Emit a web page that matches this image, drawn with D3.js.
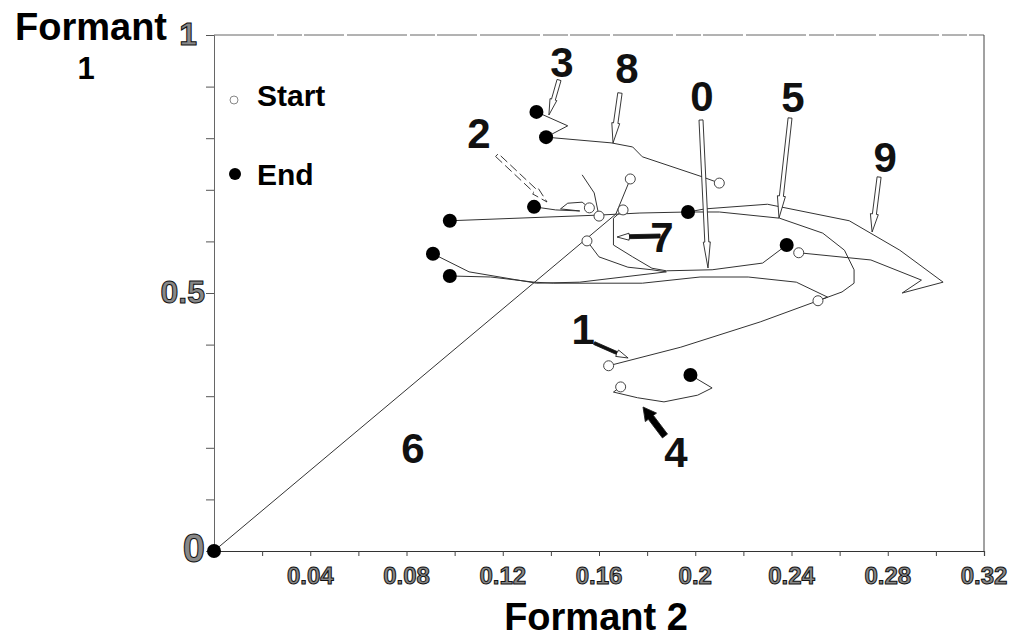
<!DOCTYPE html>
<html>
<head>
<meta charset="utf-8">
<script src="https://cdn.jsdelivr.net/npm/d3@7"></script>
<style>
  html, body { margin: 0; padding: 0; background: #fff; }
  svg { display: block; }
</style>
</head>
<body>
<svg id="chart" width="1016" height="640"></svg>
<script>
// Formant trajectories of the spoken digits: [Formant 2, Formant 1] pairs,
// first point = start of the utterance, last point = end. null = gap in the track.
const digit0 = [[0.170,0.661],[0.166,0.645],[0.166,0.593],[0.174,0.570],[0.182,0.548],[0.188,0.543],[0.207,0.545],[0.228,0.558],[0.238,0.593]];
const digit1 = [[0.164,0.359],[0.194,0.395],[0.227,0.444],[0.251,0.485],[0.255,0.492],[0.242,0.521],[0.222,0.531],[0.202,0.531],[0.178,0.519],[0.141,0.519],[0.133,0.521],[0.115,0.531],[0.098,0.533]];
const digit2 = [[0.156,0.665],[0.153,0.676],[0.147,0.674],[0.144,0.663],[0.152,0.659],[0.142,0.661],[0.133,0.667]];
const digit3 = [[0.160,0.649],[0.158,0.694],[0.153,0.729],null,[0.138,0.802],[0.147,0.824],[0.134,0.851]];
const digit4 = [[0.169,0.318],[0.166,0.308],[0.176,0.297],[0.187,0.289],[0.201,0.302],[0.207,0.316],[0.198,0.341]];
const digit5 = [[0.251,0.485],[0.261,0.502],[0.266,0.519],[0.266,0.545],[0.262,0.583],[0.253,0.616],[0.235,0.645],[0.210,0.657],[0.197,0.657],[0.177,0.655],[0.160,0.651],[0.098,0.640]];
const digit6 = [[0.173,0.721],[0.167,0.653],[0,0]];
const digit7 = [[0.155,0.601],[0.160,0.570],[0.172,0.550],[0.182,0.545],[0.188,0.541],[0.152,0.521],[0.134,0.519],[0.106,0.541],[0.091,0.576]];
const digit8 = [[0.210,0.713],[0.203,0.725],[0.178,0.764],[0.174,0.783],[0.165,0.791],[0.138,0.802]];
const digit9 = [[0.243,0.578],[0.273,0.564],[0.294,0.525],[0.286,0.500],[0.303,0.521],[0.285,0.583],[0.264,0.640],[0.230,0.672],[0.204,0.663],[0.197,0.657]];

const digitNames = ["0","1","2","3","4","5","6","7","8","9"];

// Digit annotations: label centre and arrow [tail, tip], in data units
const labelPos = [[0.2028,0.8818],[0.1534,0.4300],[0.1101,0.8101],[0.1446,0.9477],[0.1920,0.1919],[0.2406,0.8798],[0.0827,0.1996],[0.1862,0.6085],[0.1716,0.9360],[0.2789,0.7636]];
const arrowTail = [[0.2024,0.8353],[0.1580,0.4030],[0.1176,0.7674],[0.1434,0.9128],[0.1874,0.2229],[0.2394,0.8391],null,[0.1854,0.6105],[0.1687,0.8876],[0.2764,0.7248]];
const arrowTip  = [[0.2053,0.5484],[0.1721,0.3740],[0.1384,0.6764],[0.1392,0.8450],[0.1783,0.2791],[0.2348,0.6453],null,[0.1675,0.6085],[0.1658,0.7907],[0.2735,0.6182]];

// Axis ticks and labels
const xMinorTicks = [0.02,0.04,0.06,0.08,0.10,0.12,0.14,0.16,0.18,0.20,0.22,0.24,0.26,0.28,0.30,0.32];
const xTickValues = [0.04,0.08,0.12,0.16,0.20,0.24,0.28,0.32];
const xTickLabels = ["0.04","0.08","0.12","0.16","0.2","0.24","0.28","0.32"];
const yMinorTicks = [0.1,0.2,0.3,0.4,0.5,0.6,0.7,0.8,0.9,1.0];
const yTickValues = [0, 0.5, 1];
const yTickLabels = ["0","0.5","1"];

const trajectories = [digit0,digit1,digit2,digit3,digit4,digit5,digit6,digit7,digit8,digit9];

const svg = d3.select("#chart");
const FONT = "'Liberation Sans', Arial, Helvetica, sans-serif";

const x = d3.scaleLinear().domain([0, 0.32]).range([214, 984]);
const y = d3.scaleLinear().domain([0, 1]).range([551, 35]);

// frame
const frame = svg.append("g");
frame.append("line").attr("x1", x(0)).attr("x2", x(0.32)).attr("y1", y(1)).attr("y2", y(1))
  .attr("stroke", "#666").attr("stroke-width", 1).attr("stroke-dasharray", "60,3,25,2,40,3");
frame.append("line").attr("x1", x(0.32)).attr("x2", x(0.32)).attr("y1", y(1)).attr("y2", y(0))
  .attr("stroke", "#444").attr("stroke-width", 1);

// x axis
const xAxis = svg.append("g").attr("transform", `translate(0,${y(0)})`)
  .call(d3.axisBottom(x).tickValues(xMinorTicks).tickSize(5).tickFormat(""));
xAxis.select(".domain").attr("stroke", "#333").attr("stroke-width", 1.2);
xAxis.selectAll(".tick line").attr("stroke", "#444");

// y axis
const yAxis = svg.append("g").attr("transform", `translate(${x(0)},0)`)
  .call(d3.axisLeft(y).tickValues(yMinorTicks).tickSize(8).tickFormat(""));
yAxis.select(".domain").attr("stroke", "#666").attr("stroke-width", 1);
yAxis.selectAll(".tick line").attr("stroke", "#555");

// tick labels (outlined numerals)
svg.append("g").selectAll("text").data(xTickValues).join("text")
  .attr("x", d => x(d)).attr("y", y(0) + 33)
  .attr("text-anchor", "middle")
  .attr("font-family", FONT).attr("font-weight", "bold").attr("font-size", 24)
  .attr("fill", "#888").attr("stroke", "#111").attr("stroke-width", 1)
  .text((d, i) => xTickLabels[i]);

svg.append("g").selectAll("text").data(yTickValues).join("text")
  .attr("x", x(0) - 9).attr("y", d => y(d))
  .attr("dx", d => d === 1 ? -8 : 0)
  .attr("dy", d => d === 0 ? "0.28em" : "0.3em")
  .attr("text-anchor", "end")
  .attr("font-family", FONT).attr("font-weight", "bold")
  .attr("font-size", d => d === 0 ? 40 : 32)
  .attr("fill", "#888").attr("stroke", "#111").attr("stroke-width", 1)
  .text((d, i) => yTickLabels[i]);

// axis titles
const yTitle = svg.append("text").attr("font-family", FONT).attr("font-weight", "bold")
  .attr("fill", "#000").attr("text-anchor", "middle");
yTitle.append("tspan").attr("x", 91).attr("y", 40).attr("font-size", 38).text("Formant");
yTitle.append("tspan").attr("x", 86).attr("y", 79).attr("font-size", 31).text("1");

svg.append("text").attr("x", 596).attr("y", 630)
  .attr("text-anchor", "middle").attr("font-family", FONT).attr("font-weight", "bold")
  .attr("font-size", 38).attr("fill", "#000").text("Formant 2");

// trajectories
const line = d3.line().defined(d => d !== null).x(d => x(d[0])).y(d => y(d[1]));
svg.append("g").selectAll("path").data(trajectories).join("path")
  .attr("d", line).attr("fill", "none")
  .attr("stroke", "#333").attr("stroke-width", 1).attr("stroke-linejoin", "round");

// start markers (open) then end markers (filled)
svg.append("g").selectAll("circle").data(trajectories).join("circle")
  .attr("cx", d => x(d[0][0])).attr("cy", d => y(d[0][1])).attr("r", 5)
  .attr("fill", "#fff").attr("stroke", "#444").attr("stroke-width", 1);
svg.append("g").selectAll("circle").data(trajectories).join("circle")
  .attr("cx", d => x(d[d.length - 1][0])).attr("cy", d => y(d[d.length - 1][1])).attr("r", 7)
  .attr("fill", "#000");

// annotation arrows
function arrowGeom(t, h, sw, hw, hl) {
  const x1 = x(t[0]), y1 = y(t[1]), x2 = x(h[0]), y2 = y(h[1]);
  const L = Math.hypot(x2 - x1, y2 - y1), ux = (x2 - x1) / L, uy = (y2 - y1) / L;
  const nx = -uy, ny = ux, bx = x2 - ux * hl, by = y2 - uy * hl;
  const p = [
    [x1 + nx * sw, y1 + ny * sw], [bx + nx * sw, by + ny * sw], [bx + nx * hw, by + ny * hw],
    [x2, y2],
    [bx - nx * hw, by - ny * hw], [bx - nx * sw, by - ny * sw], [x1 - nx * sw, y1 - ny * sw]
  ];
  return {
    outline: "M" + p.map(q => q[0].toFixed(1) + "," + q[1].toFixed(1)).join("L") + "Z",
    shaft: [x1, y1, bx, by]
  };
}
// kind: "hollow" outlined arrow, "solid" filled arrow, "mixed" black shaft with outlined head
const arrowStyle = {
  "0": {sw: 2, hw: 3.5, hl: 26, kind: "hollow", dash: null},
  "1": {sw: 1.5, hw: 3.5, hl: 12, kind: "mixed", dash: null},
  "2": {sw: 2, hw: 4, hl: 16, kind: "hollow", dash: "9,4"},
  "3": {sw: 2, hw: 3.5, hl: 16, kind: "hollow", dash: null},
  "4": {sw: 3.2, hw: 7, hl: 13, kind: "solid", dash: null},
  "5": {sw: 2, hw: 4, hl: 22, kind: "hollow", dash: null},
  "7": {sw: 2, hw: 3.5, hl: 12, kind: "mixed", dash: null},
  "8": {sw: 2.2, hw: 4, hl: 20, kind: "hollow", dash: null},
  "9": {sw: 2, hw: 4, hl: 18, kind: "hollow", dash: null}
};
const arrows = svg.append("g");
digitNames.forEach((name, i) => {
  if (!arrowTail[i]) return;
  const s = arrowStyle[name];
  const g = arrowGeom(arrowTail[i], arrowTip[i], s.sw, s.hw, s.hl);
  arrows.append("path").attr("d", g.outline)
    .attr("fill", s.kind === "solid" ? "#000" : "#fff")
    .attr("stroke", "#222").attr("stroke-width", 0.9)
    .attr("stroke-dasharray", s.dash);
  if (s.kind === "mixed") {
    arrows.append("line")
      .attr("x1", g.shaft[0]).attr("y1", g.shaft[1]).attr("x2", g.shaft[2]).attr("y2", g.shaft[3])
      .attr("stroke", "#111").attr("stroke-width", s.sw * 2);
  }
});

// digit labels
svg.append("g").selectAll("text").data(digitNames).join("text")
  .attr("x", (d, i) => x(labelPos[i][0])).attr("y", (d, i) => y(labelPos[i][1]))
  .attr("dy", "0.36em").attr("text-anchor", "middle")
  .attr("font-family", FONT).attr("font-weight", "bold").attr("font-size", 42)
  .attr("fill", "#111").text(d => d);

// legend
const legend = svg.append("g");
legend.append("circle").attr("cx", 234).attr("cy", 100).attr("r", 4)
  .attr("fill", "#fff").attr("stroke", "#888").attr("stroke-width", 1);
legend.append("text").attr("x", 257).attr("y", 106).attr("font-family", FONT)
  .attr("font-weight", "bold").attr("font-size", 30).attr("fill", "#000").text("Start");
legend.append("circle").attr("cx", 235).attr("cy", 174).attr("r", 6).attr("fill", "#000");
legend.append("text").attr("x", 257).attr("y", 185).attr("font-family", FONT)
  .attr("font-weight", "bold").attr("font-size", 30).attr("fill", "#000").text("End");
</script>
</body>
</html>
